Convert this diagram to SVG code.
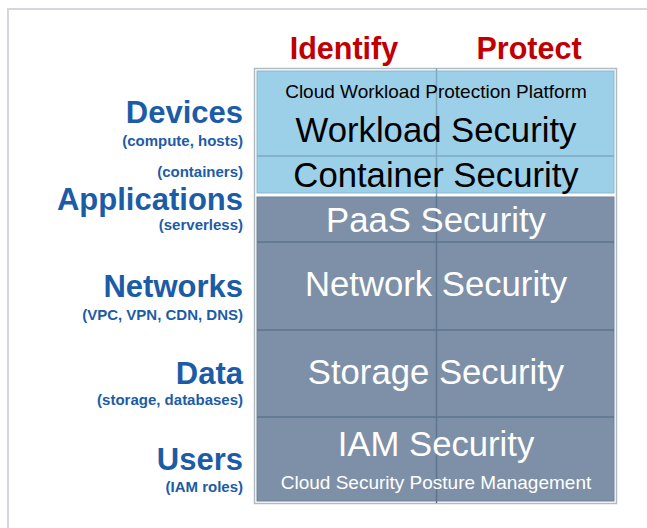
<svg xmlns="http://www.w3.org/2000/svg" width="647" height="528" viewBox="0 0 647 528">
<style>
.hdr{font-family:"Liberation Sans",Arial,sans-serif;font-weight:bold;font-size:30.5px;fill:#c00000;text-anchor:middle}
.lbl{font-family:"Liberation Sans",Arial,sans-serif;font-weight:bold;font-size:31px;fill:#1c5ca6;text-anchor:end}
.sub{font-family:"Liberation Sans",Arial,sans-serif;font-weight:bold;font-size:15px;fill:#1c5ca6;text-anchor:end}
.big{font-family:"Liberation Sans",Arial,sans-serif;font-size:34.7px;text-anchor:middle}
.small{font-family:"Liberation Sans",Arial,sans-serif;font-size:19px;text-anchor:middle}
.dark{fill:#000}
.light{fill:#fff}
.gb{stroke:#7eaac4;stroke-width:1.5}
.gs{stroke:#5d758f;stroke-width:1.5}
</style>
<rect width="647" height="528" fill="#fff"/>
<path d="M8 528 V9 H647" fill="none" stroke="#d3d7db" stroke-width="2"/>
<g id="headers">
<text class="hdr" x="344" y="59">Identify</text>
<text class="hdr" x="529" y="59">Protect</text>
</g>
<g id="table-frame">
<rect x="254.5" y="68.5" width="362" height="435" fill="#fff" stroke="#b2bac2" stroke-width="1.5"/>
<rect x="257" y="71" width="357" height="122" fill="#9ccfe8" stroke="#8ab6cc" stroke-width="1"/>
<rect x="257" y="197" width="357" height="304" fill="#7e90a7" stroke="#6f8299" stroke-width="1"/>
</g>
<g id="grid">
<line class="gb" x1="257" y1="156" x2="614" y2="156"/>
<line class="gs" x1="257" y1="242" x2="614" y2="242"/>
<line class="gs" x1="257" y1="330" x2="614" y2="330"/>
<line class="gs" x1="257" y1="417" x2="614" y2="417"/>
<line class="gb" x1="436.5" y1="68" x2="436.5" y2="196"/>
<line class="gs" x1="436.5" y1="196" x2="436.5" y2="503"/>
</g>
<g id="workload">
<text class="small dark" x="436" y="98">Cloud Workload Protection Platform</text>
<text class="big dark" x="436" y="142">Workload Security</text>
</g>
<g id="container">
<text class="big dark" x="436" y="187">Container Security</text>
</g>
<g id="paas">
<text class="big light" x="436" y="232">PaaS Security</text>
</g>
<g id="network">
<text class="big light" x="436" y="296">Network Security</text>
</g>
<g id="storage">
<text class="big light" x="436" y="384">Storage Security</text>
</g>
<g id="iam">
<text class="big light" x="436" y="456">IAM Security</text>
<text class="small light" x="436" y="489">Cloud Security Posture Management</text>
</g>
<g id="labels">
<text class="lbl" x="243" y="123">Devices</text>
<text class="sub" x="243" y="146">(compute, hosts)</text>
<text class="sub" x="243" y="177">(containers)</text>
<text class="lbl" x="243" y="210">Applications</text>
<text class="sub" x="243" y="230">(serverless)</text>
<text class="lbl" x="243" y="297">Networks</text>
<text class="sub" x="243" y="320">(VPC, VPN, CDN, DNS)</text>
<text class="lbl" x="243" y="384">Data</text>
<text class="sub" x="243" y="405">(storage, databases)</text>
<text class="lbl" x="243" y="470">Users</text>
<text class="sub" x="243" y="492">(IAM roles)</text>
</g>
</svg>
